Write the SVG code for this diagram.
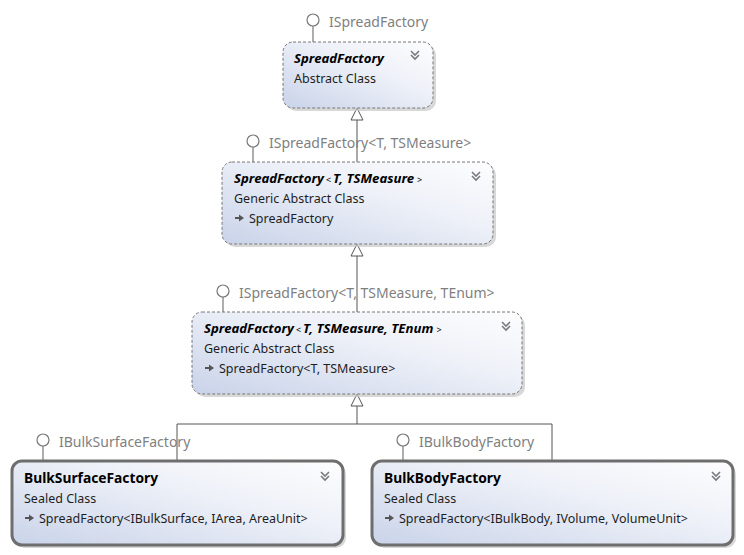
<svg xmlns="http://www.w3.org/2000/svg" width="744" height="555" viewBox="0 0 744 555">
<defs>
<linearGradient id="g" x1="0" y1="1" x2="1" y2="0">
<stop offset="0" stop-color="#c9d3e9"/>
<stop offset="0.6" stop-color="#eef1f8"/>
<stop offset="1" stop-color="#fdfdfe"/>
</linearGradient>
<g id="chev"><path d="M-4,-4 L0,0 L4,-4 M-4,0 L0,4 L4,0" fill="none" stroke="#7a7a7a" stroke-width="1.6"/></g>
<g id="arr"><path d="M0,0 H5" stroke="#555" stroke-width="2"/><path d="M4,-3.5 L9,0 L4,3.5 Z" fill="#555"/></g>
</defs>
<style>
.shadow{fill:#c8c8c8;opacity:0.7}
.abs{fill:url(#g);stroke:#777;stroke-width:1;stroke-dasharray:3 2}
.sealed{fill:url(#g);stroke:#6e6e6e;stroke-width:3}
text{font-family:"Noto Sans","Open Sans",sans-serif}
.t{font-size:13.8px;font-weight:bold;fill:#000}
.ti{font-size:13.2px;font-weight:bold;font-style:italic;fill:#000}
.sm{font-size:9px;font-weight:normal;font-style:normal}
.b{font-size:12.5px;fill:#1e1e1e}
.lbl{font-size:14px;fill:#7f7f7f}
.lol{fill:#fff;stroke:#777;stroke-width:1.2}
.ll{stroke:#777;stroke-width:1.2}
.conn{stroke:#555;stroke-width:1;fill:none}
.tri{fill:#fff;stroke:#555;stroke-width:1}
</style>
<g id="connectors">
<path class="conn" d="M357,162 V120"/>
<path class="tri" d="M357,108 L351,120 L363,120 Z"/>
<path class="conn" d="M357,312 V256"/>
<path class="tri" d="M357,244 L351,256 L363,256 Z"/>
<path class="conn" d="M177,461 V424 H552 V461 M357,424 V406"/>
<path class="tri" d="M357,394 L351,406 L363,406 Z"/>
</g>
<g id="SpreadFactory">
<path class="ll" d="M313,26 V42"/>
<circle class="lol" cx="313" cy="20" r="6"/>
<text class="lbl" x="329" y="27">ISpreadFactory</text>
<rect class="shadow" x="286" y="45" width="150" height="66" rx="10"/>
<rect class="abs" x="283" y="42" width="150" height="66" rx="10"/>
<text class="ti" x="294" y="63">SpreadFactory</text>
<text class="b" x="294" y="83">Abstract Class</text>
<use href="#chev" x="415" y="55"/>
</g>
<g id="SpreadFactory2">
<path class="ll" d="M253,147 V162"/>
<circle class="lol" cx="253" cy="141" r="6"/>
<text class="lbl" x="269" y="148">ISpreadFactory&lt;T, TSMeasure&gt;</text>
<rect class="shadow" x="225" y="165" width="271" height="82" rx="10"/>
<rect class="abs" x="222" y="162" width="271" height="82" rx="10"/>
<text class="ti" x="234" y="183">SpreadFactory<tspan class="sm" dx="2">&lt;</tspan><tspan dx="2">T, TSMeasure</tspan><tspan class="sm" dx="3">&gt;</tspan></text>
<text class="b" x="234" y="203">Generic Abstract Class</text>
<use href="#arr" x="235" y="218"/>
<text class="b" x="249" y="223">SpreadFactory</text>
<use href="#chev" x="476" y="176"/>
</g>
<g id="SpreadFactory3">
<path class="ll" d="M223,297 V312"/>
<circle class="lol" cx="223" cy="291" r="6"/>
<text class="lbl" x="239" y="298">ISpreadFactory&lt;T, TSMeasure, TEnum&gt;</text>
<rect class="shadow" x="195" y="315" width="330" height="82" rx="10"/>
<rect class="abs" x="192" y="312" width="330" height="82" rx="10"/>
<text class="ti" x="204" y="333">SpreadFactory<tspan class="sm" dx="2">&lt;</tspan><tspan dx="2">T, TSMeasure, TEnum</tspan><tspan class="sm" dx="3">&gt;</tspan></text>
<text class="b" x="204" y="353">Generic Abstract Class</text>
<use href="#arr" x="205" y="368"/>
<text class="b" x="219" y="373">SpreadFactory&lt;T, TSMeasure&gt;</text>
<use href="#chev" x="506" y="326"/>
</g>
<g id="BulkSurfaceFactory">
<path class="ll" d="M43,446 V461"/>
<circle class="lol" cx="43" cy="440" r="6"/>
<text class="lbl" x="59" y="447">IBulkSurfaceFactory</text>
<rect class="shadow" x="15" y="464" width="331" height="84" rx="10"/>
<rect class="sealed" x="12" y="461" width="331" height="84" rx="10"/>
<text class="t" x="24" y="483">BulkSurfaceFactory</text>
<text class="b" x="24" y="503">Sealed Class</text>
<use href="#arr" x="25" y="518"/>
<text class="b" x="39" y="523">SpreadFactory&lt;IBulkSurface, IArea, AreaUnit&gt;</text>
<use href="#chev" x="325" y="476"/>
</g>
<g id="BulkBodyFactory">
<path class="ll" d="M403,446 V461"/>
<circle class="lol" cx="403" cy="440" r="6"/>
<text class="lbl" x="419" y="447">IBulkBodyFactory</text>
<rect class="shadow" x="375" y="464" width="361" height="84" rx="10"/>
<rect class="sealed" x="372" y="461" width="361" height="84" rx="10"/>
<text class="t" x="384" y="483">BulkBodyFactory</text>
<text class="b" x="384" y="503">Sealed Class</text>
<use href="#arr" x="385" y="518"/>
<text class="b" x="399" y="523">SpreadFactory&lt;IBulkBody, IVolume, VolumeUnit&gt;</text>
<use href="#chev" x="716" y="476"/>
</g>
</svg>
